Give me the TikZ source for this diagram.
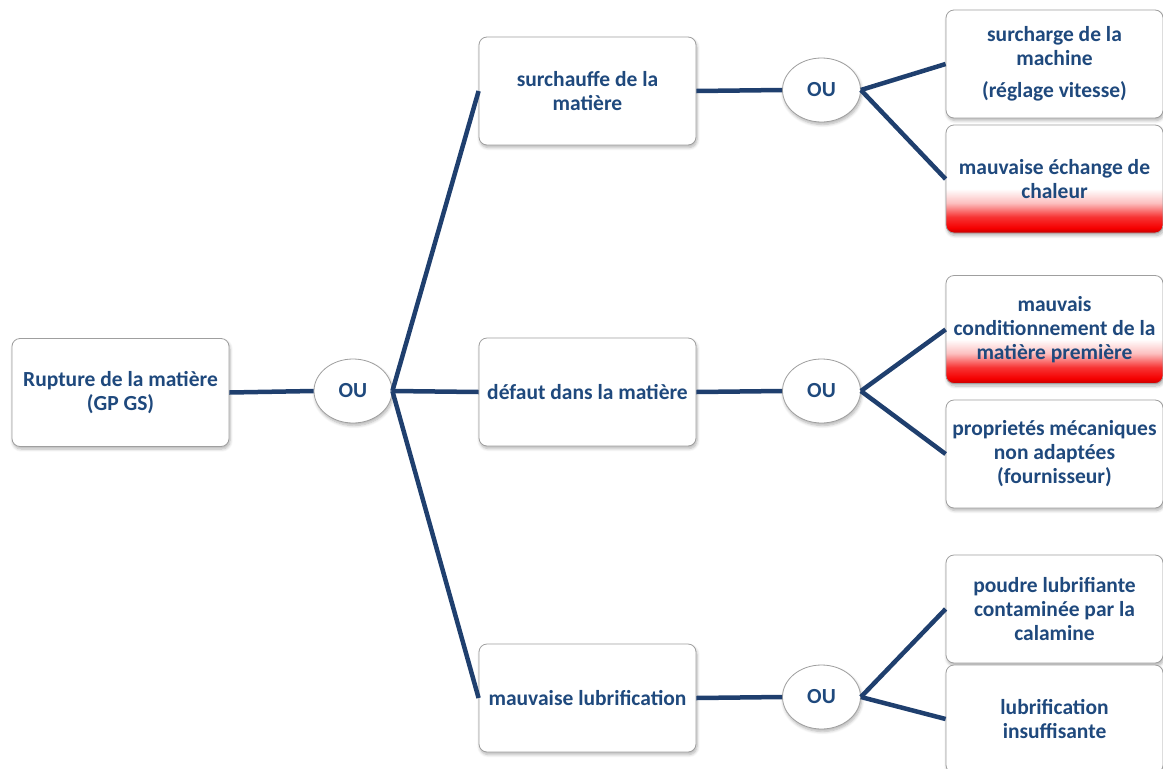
\documentclass[tikz,border=0pt]{standalone}
\usepackage{fontspec}
\setmainfont{Carlito}
\usetikzlibrary{shapes.geometric,shadows.blur}
\definecolor{txtblue}{HTML}{1F497D}
\definecolor{linkblue}{HTML}{1F3F6E}
\definecolor{alarm}{HTML}{F50000}
% red fade at the foot of the highlighted boxes, at its natural size (bottom to top)
\pgfdeclareverticalshading{alarmfade}{222bp}{color(0bp)=(alarm!80!black); color(5bp)=(alarm); color(16bp)=(alarm!80!white); color(30bp)=(alarm!25!white); color(44bp)=(white)}
\tikzset{
  softshadow/.style={blur shadow={shadow blur steps=6, shadow xshift=1pt, shadow yshift=-2.5pt, shadow opacity=30, shadow blur radius=3pt}},
  causebox/.style={rectangle, rounded corners=8pt, draw=gray!75, line width=0.8pt, fill=white,
    minimum width=217pt, minimum height=108pt, align=center, text=txtblue,
    font=\bfseries\fontsize{21.5}{24}\selectfont, inner sep=2pt, softshadow},
  alertbox/.style={causebox, path picture={
      \pgftext[bottom,at={\pgfpointanchor{path picture bounding box}{south}}]{\pgfuseshading{alarmfade}};}},
  orgate/.style={ellipse, draw=gray!75, line width=0.8pt, fill=white, minimum width=78pt,
    minimum height=64pt, inner sep=0pt, text=txtblue, font=\bfseries\fontsize{21.5}{24}\selectfont, softshadow},
  link/.style={draw=linkblue, line width=4.5pt}
}
\begin{document}
\begin{tikzpicture}[x=1pt,y=1pt]
\useasboundingbox (0,0) rectangle (1163,-769);

% root event and first gate
\node[causebox] (root) at (120.5,-392.5) {Rupture de la matière\\(GP GS)};
\node[orgate] (g0) at (353,-391) {OU};

% intermediate causes
\node[causebox] (heat) at (587.5,-91) {surchauffe de la\\matière};
\node[causebox] (flaw) at (587.5,-392) {défaut dans la matière};
\node[causebox] (lube) at (587.5,-698) {mauvaise lubrification};

% gates of the second level
\node[orgate] (g1) at (821.5,-90) {OU};
\node[orgate] (g2) at (821.5,-391) {OU};
\node[orgate] (g3) at (821.5,-697) {OU};

% basic causes
\node[causebox] (c1) at (1054.5,-64) {surcharge de la\\machine\\[8pt](réglage vitesse)};
\node[alertbox] (c2) at (1054.5,-179) {mauvaise échange de\\chaleur};
\node[alertbox] (c3) at (1054.5,-329.5) {mauvais\\conditionnement de la\\matière première};
\node[causebox] (c4) at (1054.5,-454) {proprietés mécaniques\\non adaptées\\(fournisseur)};
\node[causebox] (c5) at (1054.5,-609) {poudre lubrifiante\\contaminée par la\\calamine};
\node[causebox] (c6) at (1054.5,-719) {lubrification\\insuffisante};

% connectors
\draw[link] (root.east) -- (g0.west);
\draw[link] (g0.east) -- (heat.west);
\draw[link] (g0.east) -- (flaw.west);
\draw[link] (g0.east) -- (lube.west);
\draw[link] (heat.east) -- (g1.west);
\draw[link] (flaw.east) -- (g2.west);
\draw[link] (lube.east) -- (g3.west);
\draw[link] (g1.east) -- (c1.west);
\draw[link] (g1.east) -- (c2.west);
\draw[link] (g2.east) -- (c3.west);
\draw[link] (g2.east) -- (c4.west);
\draw[link] (g3.east) -- (c5.west);
\draw[link] (g3.east) -- (c6.west);
\end{tikzpicture}
\end{document}
